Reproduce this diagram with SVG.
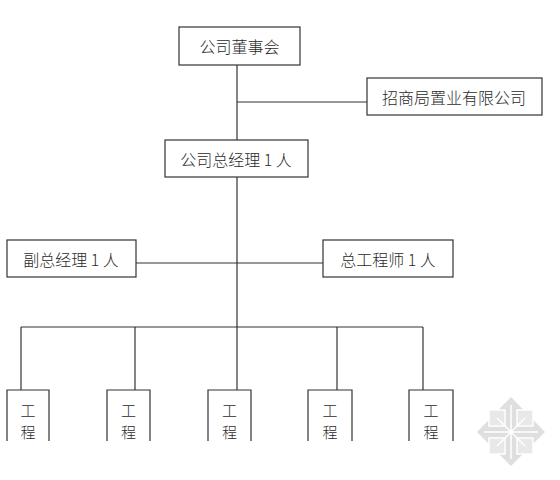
<svg xmlns="http://www.w3.org/2000/svg" width="560" height="480" viewBox="0 0 560 480">
<style>
.box{fill:#fff;stroke:#333;stroke-width:1.2}
.ln{fill:none;stroke:#333;stroke-width:1.2}
.t{font-family:"Noto Sans CJK SC","Noto Sans",sans-serif;font-size:16px;font-weight:300;fill:#2a2a2a;text-anchor:middle;dominant-baseline:central}
.s{font-size:15px}
</style>
<rect width="560" height="480" fill="#fff"/>
<g id="connectors">
<line class="ln" x1="237" y1="65" x2="237" y2="140"/>
<line class="ln" x1="237" y1="102" x2="367" y2="102"/>
<line class="ln" x1="237" y1="177" x2="237" y2="390"/>
<line class="ln" x1="136" y1="263" x2="323" y2="263"/>
<line class="ln" x1="21" y1="327" x2="423" y2="327"/>
<line class="ln" x1="21" y1="327" x2="21" y2="390"/>
<line class="ln" x1="135" y1="327" x2="135" y2="390"/>
<line class="ln" x1="337" y1="327" x2="337" y2="390"/>
<line class="ln" x1="423" y1="327" x2="423" y2="390"/>
</g>
<g id="board"><rect class="box" x="179" y="27" width="121" height="38"/><text class="t" x="239.5" y="46">公司董事会</text></g>
<g id="cmpg"><rect class="box" x="367" y="78" width="175" height="37"/><text class="t" x="454" y="97">招商局置业有限公司</text></g>
<g id="gm"><rect class="box" x="165" y="140" width="143" height="37"/><text class="t" x="236" y="159">公司总经理 1 人</text></g>
<g id="dgm"><rect class="box" x="7" y="240" width="129" height="37"/><text class="t" x="71" y="259">副总经理 1 人</text></g>
<g id="ce"><rect class="box" x="323" y="240" width="130" height="37"/><text class="t" x="388" y="259">总工程师 1 人</text></g>
<g id="p1"><path class="ln" d="M7 441V390H49V441"/><text class="t s" x="28" y="409">工</text><text class="t s" x="28" y="431">程</text></g>
<g id="p2"><path class="ln" d="M107 441V390H150V441"/><text class="t s" x="128.5" y="409">工</text><text class="t s" x="128.5" y="431">程</text></g>
<g id="p3"><path class="ln" d="M208 441V390H251V441"/><text class="t s" x="229.5" y="409">工</text><text class="t s" x="229.5" y="431">程</text></g>
<g id="p4"><path class="ln" d="M308 441V390H352V441"/><text class="t s" x="330" y="409">工</text><text class="t s" x="330" y="431">程</text></g>
<g id="p5"><path class="ln" d="M409 441V390H453V441"/><text class="t s" x="431" y="409">工</text><text class="t s" x="431" y="431">程</text></g>
<g id="watermark" opacity="0.9">
<polygon points="511,397 545,432 511,466 477,432" fill="#dcdcdc"/>
<rect x="489" y="410" width="16" height="16" fill="#e6e6e6" stroke="#fff" stroke-width="1.5"/>
<rect x="517" y="410" width="16" height="16" fill="#e6e6e6" stroke="#fff" stroke-width="1.5"/>
<rect x="489" y="438" width="16" height="16" fill="#e6e6e6" stroke="#fff" stroke-width="1.5"/>
<rect x="517" y="438" width="16" height="16" fill="#e6e6e6" stroke="#fff" stroke-width="1.5"/>
<path d="M511 405V459M484 432H538M497 418L525 446M525 418L497 446" stroke="#fff" stroke-width="1.5"/>
</g>
</svg>
